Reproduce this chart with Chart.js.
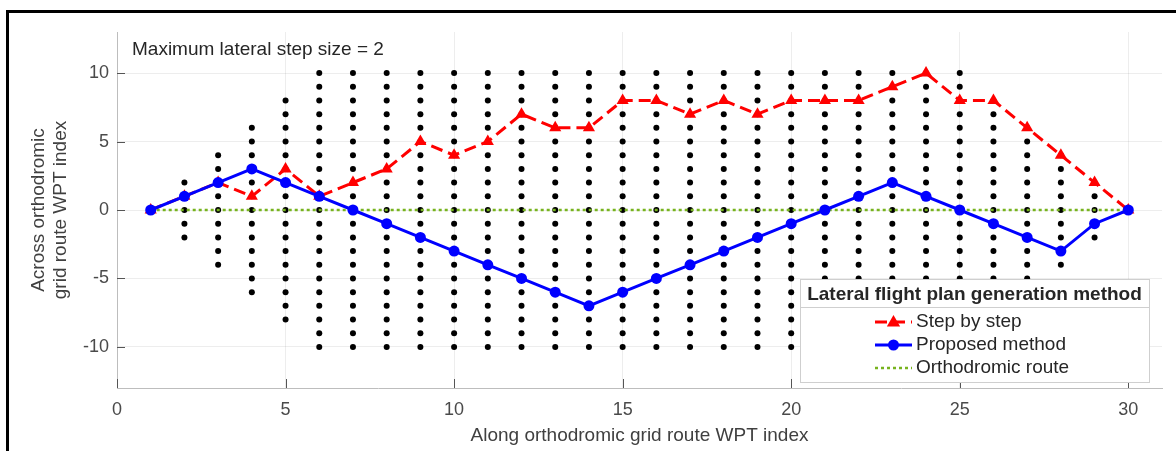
<!DOCTYPE html>
<html>
<head>
<meta charset="utf-8">
<script src="https://cdn.jsdelivr.net/npm/chart.js@4/dist/chart.umd.min.js"></script>
<style>
    body { margin: 0; background: #fff; overflow: hidden; }
    canvas { display: block; }
</style>
</head>
<body>
<canvas id="wptChart" width="1176" height="451"></canvas>
<script>
// waypoint index along the orthodromic route
const wpt = [1, 2, 3, 4, 5, 6, 7, 8, 9, 10, 11, 12, 13, 14, 15, 16, 17, 18, 19, 20, 21, 22, 23, 24, 25, 26, 27, 28, 29, 30];
// lateral index per waypoint
const stepByStep = [0, 1, 2, 1, 3, 1, 2, 3, 5, 4, 5, 7, 6, 6, 8, 8, 7, 8, 7, 8, 8, 8, 9, 10, 8, 8, 6, 4, 2, 0];
const proposed = [0, 1, 2, 3, 2, 1, 0, -1, -2, -3, -4, -5, -6, -7, -6, -5, -4, -3, -2, -1, 0, 1, 2, 1, 0, -1, -2, -3, -1, 0];
const orthodromic = [0, 0, 0, 0, 0, 0, 0, 0, 0, 0, 0, 0, 0, 0, 0, 0, 0, 0, 0, 0, 0, 0, 0, 0, 0, 0, 0, 0, 0, 0];
// how far the grid reaches either side of the route at each waypoint
const halfWidth = [0, 2, 4, 6, 8, 10, 10, 10, 10, 10, 10, 10, 10, 10, 10, 10, 10, 10, 10, 10, 10, 10, 10, 10, 10, 8, 6, 4, 2, 0];

const xTicks = [0, 5, 10, 15, 20, 25, 30];
const yTicks = [-10, -5, 0, 5, 10];

const seriesLabels = ["Step by step", "Proposed method", "Orthodromic route"];
const legendTitle = "Lateral flight plan generation method";
const noteText = "Maximum lateral step size = 2";

const FONT = "'Liberation Sans', Arial, Helvetica, sans-serif";
const RED = "#ff0000";
const BLUE = "#0000ff";
const GREEN = "#77b31e";

// grid points of the route
const gridPoints = [];
wpt.forEach((x, i) => {
    for (let j = -halfWidth[i]; j <= halfWidth[i]; j++) {
        gridPoints.push({ x: x, y: j });
    }
});

function pairs(values) {
    return wpt.map((x, i) => ({ x: x, y: values[i] }));
}

function drawTriangle(ctx, x, y, r) {
    ctx.beginPath();
    ctx.moveTo(x, y - r);
    ctx.lineTo(x + r * 0.95, y + r * 0.65);
    ctx.lineTo(x - r * 0.95, y + r * 0.65);
    ctx.closePath();
    ctx.fill();
}

// frame, inward tick marks, note and legend box
const decorations = {
    id: "decorations",
    beforeDraw(chart) {
        const ctx = chart.ctx;
        ctx.save();
        ctx.strokeStyle = "#000";
        ctx.lineWidth = 3;
        ctx.strokeRect(7.5, 11.5, 1400, 800);
        ctx.restore();
    },
    afterDraw(chart) {
        const ctx = chart.ctx;
        const xs = chart.scales.x;
        const ys = chart.scales.y;
        const area = chart.chartArea;

        ctx.save();
        ctx.strokeStyle = "#555";
        ctx.lineWidth = 1;
        xTicks.forEach(v => {
            const px = Math.round(xs.getPixelForValue(v)) + 0.5;
            ctx.beginPath();
            ctx.moveTo(px, area.bottom);
            ctx.lineTo(px, area.bottom - 9);
            ctx.stroke();
        });
        yTicks.forEach(v => {
            const py = Math.round(ys.getPixelForValue(v)) + 0.5;
            ctx.beginPath();
            ctx.moveTo(area.left, py);
            ctx.lineTo(area.left + 8, py);
            ctx.stroke();
        });

        // note in the upper left corner
        ctx.fillStyle = "#262626";
        ctx.font = "19px " + FONT;
        ctx.textBaseline = "middle";
        ctx.textAlign = "left";
        ctx.fillText(noteText, 132, 50);

        // legend
        const lx = 800, ly = 279, lw = 349, lh = 103;
        ctx.fillStyle = "#fff";
        ctx.fillRect(lx, ly, lw, lh);
        ctx.strokeStyle = "#cfcfcf";
        ctx.strokeRect(lx + 0.5, ly + 0.5, lw, lh);
        ctx.beginPath();
        ctx.moveTo(lx, ly + 28.5);
        ctx.lineTo(lx + lw, ly + 28.5);
        ctx.stroke();

        ctx.fillStyle = "#262626";
        ctx.font = "bold 19px " + FONT;
        ctx.textAlign = "center";
        ctx.fillText(legendTitle, lx + lw / 2, ly + 16);

        const rows = [ly + 43, ly + 66, ly + 89];
        const s0 = 875, s1 = 912, sm = (s0 + s1) / 2;
        ctx.font = "19px " + FONT;
        ctx.textAlign = "left";

        // step by step sample
        ctx.strokeStyle = RED;
        ctx.lineWidth = 3;
        ctx.setLineDash([12, 6]);
        ctx.beginPath();
        ctx.moveTo(s0, rows[0]);
        ctx.lineTo(s1, rows[0]);
        ctx.stroke();
        ctx.fillStyle = RED;
        drawTriangle(ctx, sm, rows[0], 7);

        // proposed sample
        ctx.setLineDash([]);
        ctx.strokeStyle = BLUE;
        ctx.beginPath();
        ctx.moveTo(s0, rows[1]);
        ctx.lineTo(s1, rows[1]);
        ctx.stroke();
        ctx.fillStyle = BLUE;
        ctx.beginPath();
        ctx.arc(sm, rows[1], 5.5, 0, Math.PI * 2);
        ctx.fill();

        // orthodromic sample
        ctx.strokeStyle = GREEN;
        ctx.lineWidth = 2.5;
        ctx.setLineDash([3, 3]);
        ctx.beginPath();
        ctx.moveTo(s0, rows[2]);
        ctx.lineTo(s1, rows[2]);
        ctx.stroke();
        ctx.setLineDash([]);

        ctx.fillStyle = "#262626";
        seriesLabels.forEach((t, i) => ctx.fillText(t, 916, rows[i]));
        ctx.restore();
    }
};

const ctx = document.getElementById("wptChart").getContext("2d");
new Chart(ctx, {
    type: "scatter",
    data: {
        datasets: [
            {
                label: seriesLabels[1],
                data: pairs(proposed),
                showLine: true,
                borderColor: BLUE,
                backgroundColor: BLUE,
                borderWidth: 3,
                pointStyle: "circle",
                pointRadius: 5.5,
                pointBorderWidth: 0,
                order: 1
            },
            {
                label: seriesLabels[0],
                data: pairs(stepByStep),
                showLine: true,
                borderColor: RED,
                backgroundColor: RED,
                borderWidth: 3,
                borderDash: [12, 6],
                pointStyle: "triangle",
                pointRadius: 7,
                pointBorderWidth: 0,
                order: 2
            },
            {
                label: seriesLabels[2],
                data: pairs(orthodromic),
                showLine: true,
                borderColor: GREEN,
                borderWidth: 2.5,
                borderDash: [3, 3],
                pointRadius: 0,
                order: 3
            },
            {
                label: "Grid",
                data: gridPoints,
                showLine: false,
                backgroundColor: "#000",
                pointRadius: 3,
                pointBorderWidth: 0,
                order: 4
            }
        ]
    },
    options: {
        responsive: false,
        animation: false,
        layout: { padding: { left: 10, right: 14, top: 32, bottom: 0 } },
        plugins: {
            legend: { display: false },
            tooltip: { enabled: false }
        },
        scales: {
            x: {
                type: "linear",
                min: 0,
                max: 31,
                afterBuildTicks: scale => { scale.ticks = xTicks.map(v => ({ value: v })); },
                afterFit: scale => { scale.height = 63; },
                grid: { color: "rgba(0,0,0,0.07)", drawTicks: false },
                border: { color: "#bdbdbd" },
                ticks: {
                    color: "#4a4a4a",
                    padding: 11,
                    font: { family: FONT, size: 18 }
                },
                title: {
                    display: true,
                    text: "Along orthodromic grid route WPT index",
                    color: "#404040",
                    padding: { top: 0, bottom: 5 },
                    font: { family: FONT, size: 19, lineHeight: "20px" }
                }
            },
            y: {
                type: "linear",
                min: -13,
                max: 13,
                afterBuildTicks: scale => { scale.ticks = yTicks.map(v => ({ value: v })); },
                afterFit: scale => { scale.width = 107; },
                grid: { color: "rgba(0,0,0,0.07)", drawTicks: false },
                border: { color: "#bdbdbd" },
                ticks: {
                    color: "#4a4a4a",
                    padding: 8,
                    font: { family: FONT, size: 18 }
                },
                title: {
                    display: true,
                    text: ["Across orthodromic", "grid route WPT index"],
                    color: "#404040",
                    padding: { top: 18, bottom: 0 },
                    font: { family: FONT, size: 19, lineHeight: "22px" }
                }
            }
        }
    },
    plugins: [decorations]
});
</script>
</body>
</html>
